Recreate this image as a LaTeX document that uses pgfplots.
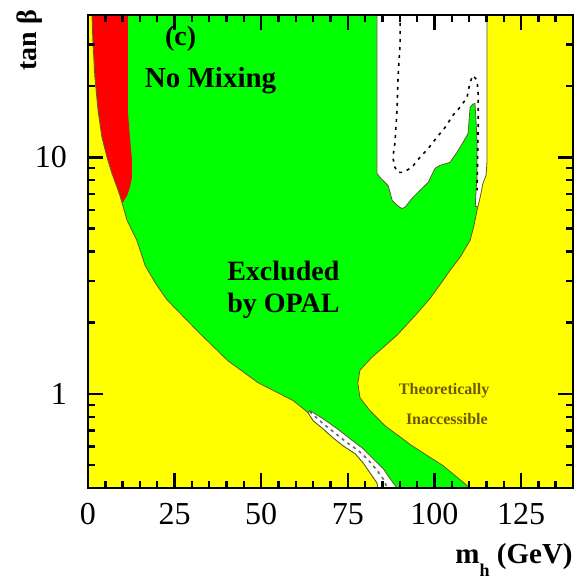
\documentclass[border=0pt]{standalone}
\usepackage{fontspec}
\setmainfont{Liberation Serif}
\usepackage{pgfplots}
\pgfplotsset{compat=1.18}
\definecolor{myyellow}{RGB}{255,255,0}
\definecolor{mygreen}{RGB}{0,255,0}
\definecolor{myred}{RGB}{255,0,0}
\definecolor{olivetext}{RGB}{110,90,0}
\definecolor{edge}{RGB}{90,90,40}
\begin{document}
\begin{tikzpicture}
\begin{axis}[
  scale only axis, width=242.5pt, height=236.5pt,
  xmin=0, xmax=140, ymin=0.4, ymax=40, ymode=log,
  axis background/.style={fill=mygreen},
  clip=false,
  axis on top,
  xtick={0,25,50,75,100,125},
  minor xtick={5,10,15,20,30,35,40,45,55,60,65,70,80,85,90,95,105,110,115,120,130,135},
  ytick={1,10}, yticklabels={1,10},
  minor ytick={0.5,0.6,0.7,0.8,0.9,2,3,4,5,6,7,8,9,20,30},
  tick align=inside,
  major tick length=7.5pt, minor tick length=3.5pt,
  tick style={black, line width=1.2pt},
  axis line style={line width=1.4pt},
  ticklabel style={font=\fontsize{16}{16}\selectfont},
  xticklabel style={yshift=-4pt},
  yticklabel style={xshift=-7pt},
  /pgf/number format/assume math mode=true,
]
% upper white (allowed) region
\addplot[fill=white, draw=edge, line width=0.4pt] coordinates {
(83.4,40) (83.4,8.56) (84.3,8.23) (85.7,7.84) (86.6,7.61) (87.2,7.11) (87.8,6.58)
(89.2,6.27) (90.6,6.08) (91.5,6.15) (93.5,6.70) (95.8,7.25) (98.2,7.84) (100.2,9.0)
(101.6,9.25) (104.5,9.53) (106.5,10.5) (108.3,11.6) (109.7,12.6) (110.3,16.3)
(111.1,16.8) (111.7,16.9) (112.0,14.4) (112.3,11.5) (112.3,8.23) (112.0,7.25)
(111.8,6.2) (116,6.2) (116,40)} -- cycle;
% dashed expected line
\addplot[black, line width=0.8pt, dash pattern=on 1.5pt off 2.5pt] coordinates {
(90.1,40) (90.1,30.4) (89.5,21.8) (89.2,15.8) (88.6,11.5) (88.0,10.0) (88.6,9.07)
(89.5,8.64) (90.9,8.64) (93.5,9.07) (95.8,10) (98.2,10.9) (100.8,12.2) (103.1,13.4)
(105.4,15.1) (107.4,16.3) (109.4,17.9) (110.3,20.8) (111.1,22.2) (112.3,21.2)
(112.6,18.7) (112.6,13.0) (112.3,7.25)};
% right yellow (theoretically inaccessible)
\addplot[fill=myyellow, draw=edge, line width=0.4pt] coordinates {
(115.2,40) (140,40) (140,0.4) (110.3,0.4) (102.5,0.497) (93.5,0.604) (85.7,0.734)
(81.4,0.849) (78.5,0.964) (77.9,1.11) (78.5,1.26) (82.0,1.43) (89.2,1.77) (95.0,2.19)
(98.7,2.53) (102.5,3.02) (104.5,3.33) (107.4,3.78) (110.3,4.46) (111.4,5.14)
(112.3,5.97) (113.2,6.78) (114.0,7.76) (114.9,8.4) (115.2,9.7)} -- cycle;
% red region
\addplot[fill=myred, draw=none] coordinates {
(1.15,40) (11.5,40) (11.5,15.8) (12.1,12.2) (12.7,9.71) (12.7,8.23) (12.1,7.46)
(11.3,6.90) (10.1,6.45) (9.8,6.45) (9.2,6.90) (8.4,7.46) (6.9,8.56) (5.5,10)
(4.0,12.2) (2.9,15.8) (2.0,21.8) (1.44,30.4)} -- cycle;
% left yellow
\addplot[fill=myyellow, draw=edge, line width=0.4pt] coordinates {
(0,0.4) (0,40) (1.15,40) (1.44,30.4) (2.0,21.8) (2.9,15.8) (4.0,12.2) (5.5,10)
(6.9,8.56) (8.4,7.46) (9.2,6.90) (9.8,6.45) (11.3,5.41) (14.1,4.46) (16.5,3.49)
(19.6,2.92) (22.8,2.50) (32.3,1.80) (40.4,1.38) (49.1,1.115) (59.2,0.937)
(62.1,0.867) (63.5,0.833) (65.0,0.771) (67.8,0.713) (70.7,0.653) (73.6,0.604)
(77.1,0.559) (79.4,0.512) (81.4,0.464) (83.4,0.421) (83.7,0.4)} -- cycle;
% lower white strip
\addplot[fill=white, draw=edge, line width=0.4pt] coordinates {
(64.1,0.850) (67.8,0.786) (71.9,0.713) (75.6,0.647) (79.4,0.587) (82.3,0.532)
(85.2,0.483) (87.2,0.438) (89.2,0.4) (83.7,0.4) (83.4,0.421) (81.4,0.464)
(79.4,0.512) (77.1,0.559) (73.6,0.604) (70.7,0.653) (67.8,0.713) (65.0,0.771)
(63.5,0.833)} -- cycle;
\addplot[black!60, line width=0.8pt, dash pattern=on 1.5pt off 2pt] coordinates {
(64.0,0.842) (67.8,0.750) (71.3,0.683) (74.6,0.625) (78.2,0.573) (80.8,0.528)
(83.3,0.478) (85.3,0.435) (86.4,0.4)};
% texts
\node[anchor=base west, font=\fontsize{14}{14}\selectfont\bfseries] at (axis cs:20.2,29.8) {(c)};
\node[anchor=base west, font=\fontsize{14.5}{14.5}\selectfont\bfseries] at (axis cs:14.4,19.8) {No Mixing};
\node[anchor=base west, font=\fontsize{14}{14}\selectfont\bfseries, inner sep=0pt] at (axis cs:40.1,3.02) {Excluded};
\node[anchor=base west, font=\fontsize{14}{14}\selectfont\bfseries, inner sep=0pt] at (axis cs:40.1,2.21) {by OPAL};
\node[font=\fontsize{8}{8}\selectfont\bfseries, text=olivetext] at (axis cs:102.8,1.033) {Theoretically};
\node[font=\fontsize{8}{8}\selectfont\bfseries, text=olivetext] at (axis cs:103.6,0.786) {Inaccessible};
\node[anchor=base east, inner sep=0pt, font=\fontsize{14.5}{14.5}\selectfont\bfseries] at (rel axis cs:1,-0.1586) {m\raisebox{-0.45em}{\fontsize{9}{9}\selectfont h}\ (GeV)};
\node[rotate=90, font=\fontsize{14}{14}\selectfont\bfseries] at (rel axis cs:-0.1196,0.947) {tan β};
\coordinate (bl) at (rel axis cs:-0.1814,-0.1882);
\coordinate (tr) at (rel axis cs:1.0268,1.0317);
\end{axis}
\pgfresetboundingbox
\path[use as bounding box] (bl) rectangle (tr);
\end{tikzpicture}
\end{document}
